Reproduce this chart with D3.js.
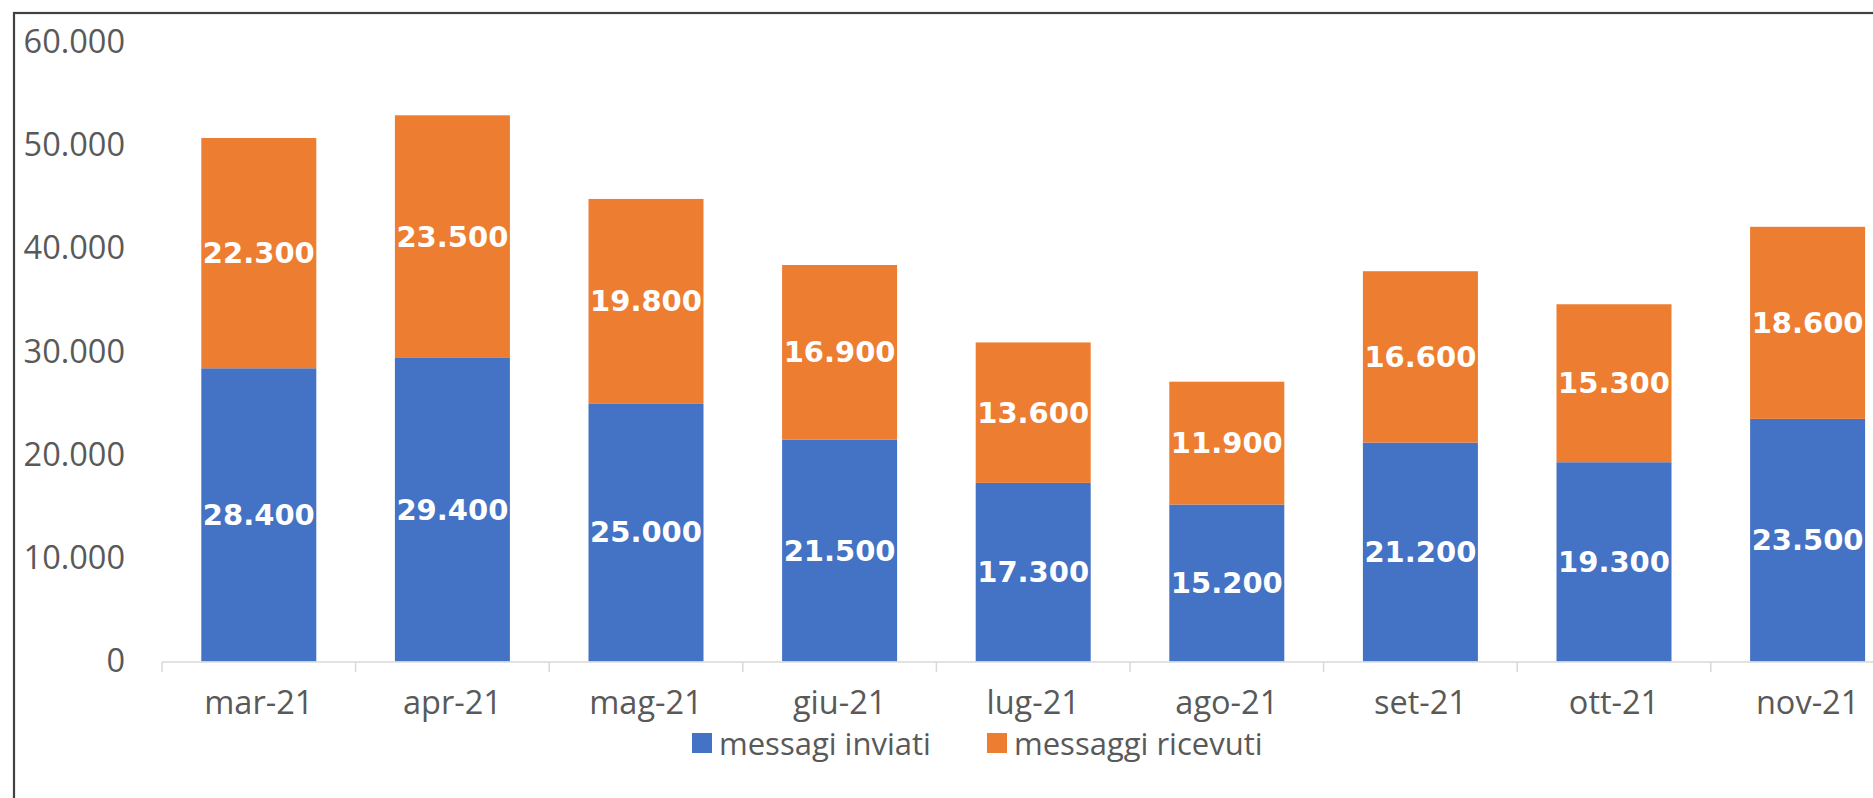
<!DOCTYPE html>
<html>
<head>
<meta charset="utf-8">
<script src="https://cdn.jsdelivr.net/npm/d3@7"></script>
<style>
  body { margin: 0; background: #fff; }
  svg { display: block; }
</style>
</head>
<body>
<div id="chart"></div>
<script>
const width = 1873;
const height = 798;
const MARGIN_LEFT = 162;
const MARGIN_TOP = 42;
const BASELINE = 661.5;
const STEP = 193.6;

// data
const months = ["mar-21", "apr-21", "mag-21", "giu-21", "lug-21", "ago-21", "set-21", "ott-21", "nov-21"];
const inviati = [28400, 29400, 25000, 21500, 17300, 15200, 21200, 19300, 23500];
const ricevuti = [22300, 23500, 19800, 16900, 13600, 11900, 16600, 15300, 18600];
const seriesNames = ["messagi inviati", "messaggi ricevuti"];
const yTicks = [0, 10000, 20000, 30000, 40000, 50000, 60000];

const colors = ["#4472C4", "#ED7D31"];
const textGrey = "#595959";
const labelFont = "'Open Sans', 'Noto Sans', sans-serif";
const labelSize = "32.5px";

// italian number format: 28.400
const it = d3.formatLocale({decimal: ",", thousands: ".", grouping: [3], currency: ["€", ""]});
const fmt = it.format(",d");

const rows = months.map((m, i) => ({month: m, inviati: inviati[i], ricevuti: ricevuti[i]}));
const stacked = d3.stack().keys(["inviati", "ricevuti"])(rows);

const xScale = d3.scaleBand()
    .domain(months)
    .range([MARGIN_LEFT, MARGIN_LEFT + STEP * months.length])
    .paddingInner(0.406)
    .paddingOuter(0.203);

const yScale = d3.scaleLinear()
    .domain([0, 60000])
    .range([BASELINE, MARGIN_TOP]);

const svg = d3.select("#chart")
    .append("svg")
    .attr("width", width)
    .attr("height", height);

svg.append("rect")
    .attr("width", width)
    .attr("height", height)
    .attr("fill", "#fff");

// outer frame (cut off at right and bottom)
svg.append("rect")
    .attr("x", 14)
    .attr("y", 13)
    .attr("width", width + 50)
    .attr("height", height + 50)
    .attr("fill", "none")
    .attr("stroke", "#404040")
    .attr("stroke-width", 2.2);

// y axis labels
const yAxis = svg.append("g")
    .attr("transform", `translate(125, 0)`)
    .call(d3.axisLeft(yScale).tickValues(yTicks).tickFormat(fmt).tickSize(0).tickPadding(0));
yAxis.select(".domain").remove();
yAxis.selectAll("text")
    .attr("fill", textGrey)
    .attr("font-family", labelFont)
    .attr("font-size", labelSize);

// bars
const layers = svg.selectAll("g.layer")
    .data(stacked)
    .join("g")
        .attr("class", "layer")
        .attr("fill", (d, i) => colors[i]);

layers.selectAll("rect")
    .data(d => d)
    .join("rect")
        .attr("x", d => xScale(d.data.month))
        .attr("y", d => yScale(d[1]))
        .attr("width", xScale.bandwidth())
        .attr("height", d => yScale(d[0]) - yScale(d[1]));

// value labels
layers.selectAll("text")
    .data(d => d)
    .join("text")
        .attr("x", d => xScale(d.data.month) + xScale.bandwidth() / 2)
        .attr("y", d => (yScale(d[0]) + yScale(d[1])) / 2)
        .attr("text-anchor", "middle")
        .attr("dominant-baseline", "central")
        .attr("fill", "white")
        .attr("font-family", "'DejaVu Sans', sans-serif")
        .attr("font-weight", "bold")
        .attr("font-size", "29px")
        .text(d => fmt(d[1] - d[0]));

// x axis: line, ticks between categories, labels
const xAxis = svg.append("g")
    .attr("transform", `translate(0, ${BASELINE + 0.5})`);

xAxis.append("line")
    .attr("x1", MARGIN_LEFT)
    .attr("x2", width)
    .attr("stroke", "#D9D9D9")
    .attr("stroke-width", 1.5);

const bounds = d3.range(months.length + 1).map(i => MARGIN_LEFT + i * xScale.step());
xAxis.selectAll("line.tick")
    .data(bounds)
    .join("line")
        .attr("class", "tick")
        .attr("x1", d => d)
        .attr("x2", d => d)
        .attr("y1", 0)
        .attr("y2", 10)
        .attr("stroke", "#D9D9D9")
        .attr("stroke-width", 1.5);

xAxis.selectAll("text")
    .data(months)
    .join("text")
        .attr("x", d => xScale(d) + xScale.bandwidth() / 2)
        .attr("y", 52)
        .attr("text-anchor", "middle")
        .attr("fill", textGrey)
        .attr("font-family", labelFont)
        .attr("font-size", labelSize)
        .text(d => d);

// legend
const legendX = [692, 987];
const legend = svg.append("g")
    .attr("transform", `translate(0, 743)`);

const entries = legend.selectAll("g")
    .data(seriesNames)
    .join("g")
        .attr("transform", (d, i) => `translate(${legendX[i]}, 0)`);

entries.append("rect")
    .attr("x", 0)
    .attr("y", -10)
    .attr("width", 20)
    .attr("height", 20)
    .attr("fill", (d, i) => colors[i]);

entries.append("text")
    .attr("x", 27)
    .attr("y", 0)
    .attr("dominant-baseline", "central")
    .attr("fill", textGrey)
    .attr("font-family", labelFont)
    .attr("font-size", "31px")
    .text(d => d);
</script>
</body>
</html>
